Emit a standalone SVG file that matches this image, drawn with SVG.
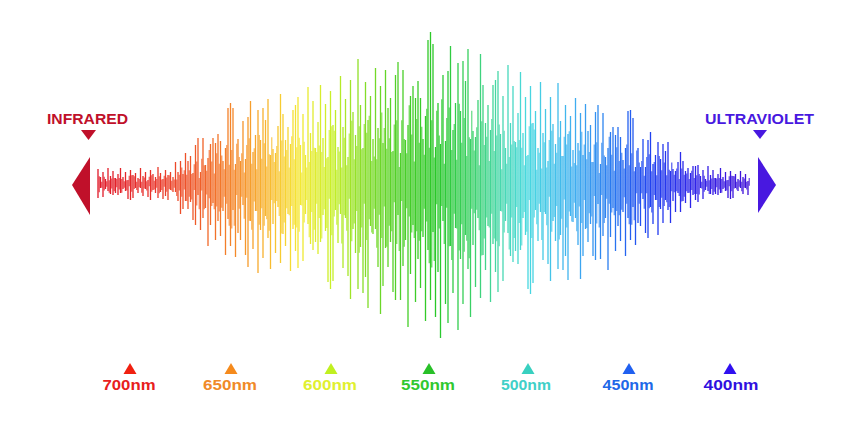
<svg xmlns="http://www.w3.org/2000/svg" width="849" height="425" viewBox="0 0 849 425">
<style>
.lbl{font-family:"Liberation Sans",Arial,sans-serif;font-weight:bold;font-size:14px;text-anchor:middle}
.end{font-family:"Liberation Sans",Arial,sans-serif;font-weight:bold;font-size:15px}
.wave{fill:none;stroke:url(#spec);stroke-width:1.3}
</style>
<defs>
<linearGradient id="spec" gradientUnits="userSpaceOnUse" x1="97" y1="0" x2="749" y2="0">
<stop offset="0" stop-color="#e01828"/>
<stop offset="0.08" stop-color="#e8302a"/>
<stop offset="0.16" stop-color="#f06028"/>
<stop offset="0.22" stop-color="#f5902a"/>
<stop offset="0.27" stop-color="#f8c030"/>
<stop offset="0.31" stop-color="#f4e834"/>
<stop offset="0.36" stop-color="#c8f028"/>
<stop offset="0.40" stop-color="#90e028"/>
<stop offset="0.46" stop-color="#50d028"/>
<stop offset="0.52" stop-color="#28c828"/>
<stop offset="0.57" stop-color="#38d060"/>
<stop offset="0.62" stop-color="#48d8b0"/>
<stop offset="0.66" stop-color="#48d8e0"/>
<stop offset="0.73" stop-color="#40b0f0"/>
<stop offset="0.79" stop-color="#2878f0"/>
<stop offset="0.85" stop-color="#2040f0"/>
<stop offset="0.92" stop-color="#3020e8"/>
<stop offset="1" stop-color="#4010d8"/>
</linearGradient>
</defs>
<rect width="849" height="425" fill="#ffffff"/>
<g id="waveform">
<path id="w1" class="wave" d="M98 169V198M100.5 177V188M103 172V197M105.5 179V189M108 168V191M110.5 176V194M113 171V195M115.5 178V193M118 174V195M120.5 168V193M123 177V189M125.5 172V191M128 180V199M130.5 170V200M133 175V198M135.5 173V188M138 178V193M140.5 168V188M143 176V196M145.5 172V189M148 180V197M150.5 170V200M153 174V190M155.5 177V193M158 167V198M160.5 173V192M163 179V199M165.5 170V196M168 175V200M170.5 172V190M173 177V192M175.5 162V192M178 172V201M180.5 161V214M183 174V209M185.5 153V201M188 161V209M190.5 156V202M193 173V220M195.5 145V225
M198 138V195M200.5 172V230M203 138V218M205.5 165V208M208 158V246M210.5 144V225M213 138V203M215.5 143V240M218 134V221M220.5 141V236M223 161V211M225.5 148V255M228 108V219M230.5 103V246M233 108V210M235.5 164V257M238 139V233M240.5 161V240M243 121V205M245.5 159V255M248 117V267M250.5 101V221M253 152V249M255.5 135V211M258 110V273M260.5 140V230M263 108V258M265.5 120V216M268 99V238M270.5 155V269M273 149V224M275.5 153V253M278 126V207M280.5 94V263M283 114V234M285.5 140V246M288 127V214M290.5 144V271M293 110V229M295.5 105V251
M298 97V268M300.5 145V205M303 114V261M305.5 155V214M308 87V224M310.5 133V244M313 101V250M315.5 148V242M318 122V254M320.5 85V242M323 138V215M325.5 104V231M328 157V282M330.5 91V289M333 125V281M335.5 110V210M338 147V243M340.5 76V214M343 127V268M345.5 99V218M348 157V276M350.5 80V299M353 112V229M355.5 135V253M358 59V289M360.5 105V247M363 148V293M365.5 82V277M368 120V308M370.5 96V226M373 139V234M375.5 68V229M378 128V267M380.5 86V314M383 143V286M385.5 70V248M388 108V267M390.5 98V242M393 151V292M395.5 75V300
M398 62V215M400.5 153V300M403 70V266M405.5 140V240M408 125V327M410.5 96V274M413 86V225M415.5 98V302M418 81V259M420.5 98V288M423 139V237M425.5 116V321M428 40V250M430.5 32V300M433 44V232M435.5 147V317M438 103V272M440.5 144V338M443 75V221M445.5 141V304M448 71V323M450.5 46V246M453 130V293M455.5 103V228M458 63V330M460.5 111V259M463 61V304M465.5 81V235M468 49V269M470.5 139V317M473 131V245M475.5 137V287M478 100V218M480.5 54V298M483 85V255M485.5 123V270M488 105V226M490.5 130V302M493 85V244M495.5 80V272
M498 71V292M500.5 134V211M503 96V281M505.5 148V221M508 65V233M510.5 123V256M513 86V262M515.5 142V251M518 113V264M520.5 72V250M523 133V218M525.5 97V235M528 155V289M530.5 86V294M533 123V283M535.5 111V210M538 148V241M540.5 82V212M543 133V260M545.5 109V214M548 161V264M550.5 97V281M553 124V221M555.5 144V241M558 83V269M560.5 121V235M563 156V270M565.5 105V256M568 134V280M570.5 116V216M573 150V222M575.5 98V218M578 143V245M580.5 113V279M583 155V256M585.5 104V229M588 131V242M590.5 125V224M593 162V256M595.5 112V260
M598 105V204M600.5 164V259M603 113V236M605.5 157V218M608 148V270M610.5 132V237M613 127V208M615.5 135V251M618 127V226M620.5 137V241M623 160V212M625.5 148V256M628 111V218M630.5 110V240M633 118V207M635.5 167V245M638 148V223M640.5 167V226M643 139V199M645.5 167V233M648 140V238M650.5 132V207M653 164V224M655.5 155V200M658 142V235M660.5 159V209M663 144V223M665.5 151V200M668 142V210M670.5 171V223M673 169V201M675.5 171V212M678 162V193M680.5 152V212M683 161V201M685.5 171V203M688 168V193M690.5 173V208M693 166V195M695.5 166V200
M698 165V202M700.5 176V188M703 170V199M705.5 179V190M708 166V191M710.5 175V194M713 170V195M715.5 178V194M718 174V195M720.5 168V193M723 177V189M725.5 172V191M728 180V198M730.5 171V199M733 176V198M735.5 174V188M738 179V191M740.5 171V188M743 177V194M745.5 174V188M748 181V195"/>
<use href="#w1" opacity="0.75" transform="translate(1.25,184) scale(1,-0.55) translate(0,-184)"/>
</g>
<g id="infrared">
<text class="end" x="47" y="124" fill="#c0102a" textLength="81" lengthAdjust="spacingAndGlyphs">INFRARED</text>
<polygon points="81,130 96,130 88.5,140" fill="#c0102a"/>
<polygon points="72,185 90,157 90,215" fill="#c0102a"/>
</g>
<g id="ultraviolet">
<text class="end" x="705" y="124" fill="#4818e0" textLength="109" lengthAdjust="spacingAndGlyphs">ULTRAVIOLET</text>
<polygon points="753,130 767,130 760,139" fill="#4818e0"/>
<polygon points="758,157 758,213 776,185" fill="#4818e0"/>
</g>
<g id="label-700">
<polygon points="130,363 136.5,374 123.5,374" fill="#f02010"/>
<text class="lbl" x="129" y="390" fill="#e8201c" textLength="53" lengthAdjust="spacingAndGlyphs">700nm</text>
</g>
<g id="label-650">
<polygon points="231,363 237.5,374 224.5,374" fill="#f58a1c"/>
<text class="lbl" x="230" y="390" fill="#f08a28" textLength="54" lengthAdjust="spacingAndGlyphs">650nm</text>
</g>
<g id="label-600">
<polygon points="331,363 337.5,374 324.5,374" fill="#c0f020"/>
<text class="lbl" x="330" y="390" fill="#e0f030" textLength="54" lengthAdjust="spacingAndGlyphs">600nm</text>
</g>
<g id="label-550">
<polygon points="429,363 435.5,374 422.5,374" fill="#28c028"/>
<text class="lbl" x="428" y="390" fill="#30c830" textLength="54" lengthAdjust="spacingAndGlyphs">550nm</text>
</g>
<g id="label-500">
<polygon points="528,363 534.5,374 521.5,374" fill="#38d0c0"/>
<text class="lbl" x="526" y="390" fill="#40d0c8" textLength="50" lengthAdjust="spacingAndGlyphs">500nm</text>
</g>
<g id="label-450">
<polygon points="629,363 635.5,374 622.5,374" fill="#2060f0"/>
<text class="lbl" x="628" y="390" fill="#2068e8" textLength="51" lengthAdjust="spacingAndGlyphs">450nm</text>
</g>
<g id="label-400">
<polygon points="730,363 736.5,374 723.5,374" fill="#3010f0"/>
<text class="lbl" x="731" y="390" fill="#3010e0" textLength="55" lengthAdjust="spacingAndGlyphs">400nm</text>
</g>
</svg>
